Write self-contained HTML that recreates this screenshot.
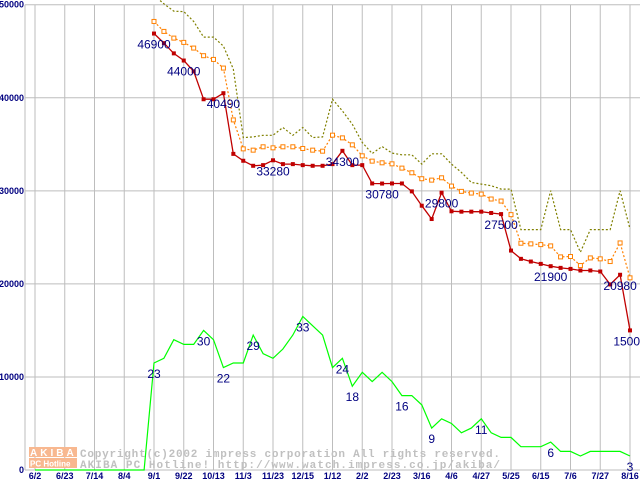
<!DOCTYPE html>
<html><head><meta charset="utf-8"><style>
html,body{margin:0;padding:0;background:#fff;width:640px;height:480px;overflow:hidden}
svg{display:block}
text{font-family:"Liberation Sans",sans-serif}
</style></head><body>
<svg id="chart" width="640" height="480" viewBox="0 0 640 480" xmlns="http://www.w3.org/2000/svg">
<g id="grid"></g>
<g id="watermark">
<rect x="29" y="447" width="48" height="10" fill="#f8b890"/>
<text x="30" y="456" font-size="10" font-weight="bold" fill="#fff" letter-spacing="3">AKIBA</text>
<rect x="29" y="458" width="48" height="10" fill="#f8b890"/>
<text x="30" y="466.5" font-size="8" font-weight="bold" fill="#fff">PC Hotline</text>
<text x="80" y="457" font-size="11" fill="#c0c0c0" font-weight="bold" style="font-family:'Liberation Mono',monospace" textLength="420">Copyright(c)2002 impress corporation All rights reserved.</text>
<text x="80" y="468" font-size="11" fill="#c0c0c0" font-weight="bold" style="font-family:'Liberation Mono',monospace" textLength="420">AKIBA PC Hotline! http://www.watch.impress.co.jp/akiba/</text>
</g>
<g id="series"></g>
<g id="labels"></g>
</svg>
<script>
const xTickLabels=["6/2","6/23","7/14","8/4","9/1","9/22","10/13","11/3","11/23","12/15","1/12","2/2","2/23","3/16","4/6","4/27","5/25","6/15","7/6","7/27","8/16"];
const yTicks=[0,10000,20000,30000,40000,50000];
const startWeek=12;
const redPrice=[46900,45870,44770,44000,42840,39840,39840,40490,33970,33230,32690,32760,33280,32870,32870,32760,32690,32690,32870,34300,32760,32760,30790,30780,30790,30790,29940,28400,26970,29800,27800,27760,27760,27760,27620,27500,23580,22690,22400,22150,21900,21720,21610,21440,21440,21330,19940,20980,15000];
const orangePrice=[48200,47130,46410,45950,45340,44520,44120,43190,37620,34510,34370,34730,34620,34730,34730,34550,34370,34260,35980,35690,34940,33760,33190,33010,32900,32440,31940,31300,31150,31400,30510,29940,29760,29650,29120,28900,27440,24370,24300,24220,24080,22900,22940,21970,22790,22690,22400,24400,20650];
const olivePrice=[51000,50100,49300,49260,48200,46520,46520,45550,43090,35720,35790,35970,35970,36800,35970,36800,35720,35790,39840,38590,37160,35190,34010,34760,34050,33870,33870,32870,33980,33980,32870,31980,30900,30720,30550,30190,30190,25830,25830,25830,30010,25830,25830,23400,25830,25830,25830,30010,25900];
const greenCounts=[0,0,0,0,0,0,0,0,0,0,0,0,23,24,28,27,27,30,28,22,23,23,29,25,24,26,29,33,31,29,22,24,18,21,19,21,19,16,16,14,9,11,10,8,9,11,8,7,7,5,5,5,6,4,4,3,4,4,4,4,3];
const countScale=500;
const redLabelIdx=[0,3,7,12,19,23,29,35,40,47,48];
const greenLabelIdx=[12,17,19,22,27,31,32,37,40,45,52,60];

const NS="http://www.w3.org/2000/svg";
const X0=35,WK=9.9167,Y0=470,YT=4.7,VMAX=50000,PL=25,PR=640;
function xw(k){return X0+k*WK;}
function yv(v){return Y0-(v/VMAX)*(Y0-YT);}
function mk(tag,attrs,parent){const e=document.createElementNS(NS,tag);for(const a in attrs)e.setAttribute(a,attrs[a]);parent.appendChild(e);return e;}
const grid=document.getElementById('grid'),ser=document.getElementById('series'),lab=document.getElementById('labels');
yTicks.forEach(v=>{
  const l=mk('line',{x1:PL,x2:PR,y1:yv(v),y2:yv(v),stroke:'#bdbdbd','stroke-width':1},grid);
  
  
  const t=mk('text',{x:PL-1,y:yv(v)+3,'text-anchor':'end','font-size':9,'font-weight':'bold',fill:'#000080'},grid);
  t.textContent=String(v);
  
  
});
mk('line',{x1:PL,x2:PL,y1:YT,y2:Y0,stroke:'#bdbdbd'},grid);
xTickLabels.forEach((s,i)=>{
  const x=xw(i*3);
  const l=mk('line',{x1:x,x2:x,y1:YT,y2:Y0,stroke:'#bdbdbd','stroke-width':1},grid);
  
  
  const t=mk('text',{x:x,y:479,'text-anchor':'middle','font-size':9,'font-weight':'bold',fill:'#000080'},grid);
  t.textContent=s;
  
  
});
function pts(arr,off,scale){return arr.map((v,i)=>xw(i+off).toFixed(1)+','+yv(v*scale).toFixed(1)).join(' ');}
const g=mk('polyline',{points:pts(greenCounts,0,countScale),fill:'none',stroke:'#00ff00','stroke-width':1.2},ser);


const ol=mk('polyline',{points:pts(olivePrice,startWeek,1),fill:'none',stroke:'#808000','stroke-width':1.2,'stroke-dasharray':'2,2'},ser);


const or=mk('polyline',{points:pts(orangePrice,startWeek,1),fill:'none',stroke:'#ff8000','stroke-width':1.2,'stroke-dasharray':'2,2'},ser);


orangePrice.forEach((v,i)=>{
  const r=mk('rect',{x:xw(i+startWeek)-2,y:yv(v)-2,width:4,height:4,fill:'#fff',stroke:'#ff8000','stroke-width':1},ser);
  
  
});
const rd=mk('polyline',{points:pts(redPrice,startWeek,1),fill:'none',stroke:'#c00000','stroke-width':1.3},ser);


redPrice.forEach((v,i)=>{
  const r=mk('rect',{x:xw(i+startWeek)-2,y:yv(v)-2,width:4,height:4,fill:'#c00000'},ser);
  
  
});
redLabelIdx.forEach(i=>{
  const t=mk('text',{x:xw(i+startWeek),y:yv(redPrice[i])+15,'text-anchor':'middle','font-size':12,fill:'#000080'},lab);
  t.textContent=String(redPrice[i]);
  
  
});
greenLabelIdx.forEach(i=>{
  const t=mk('text',{x:xw(i),y:yv(greenCounts[i]*countScale)+15,'text-anchor':'middle','font-size':12,fill:'#000080'},lab);
  t.textContent=String(greenCounts[i]);
  
  
});
</script>
</body></html>
